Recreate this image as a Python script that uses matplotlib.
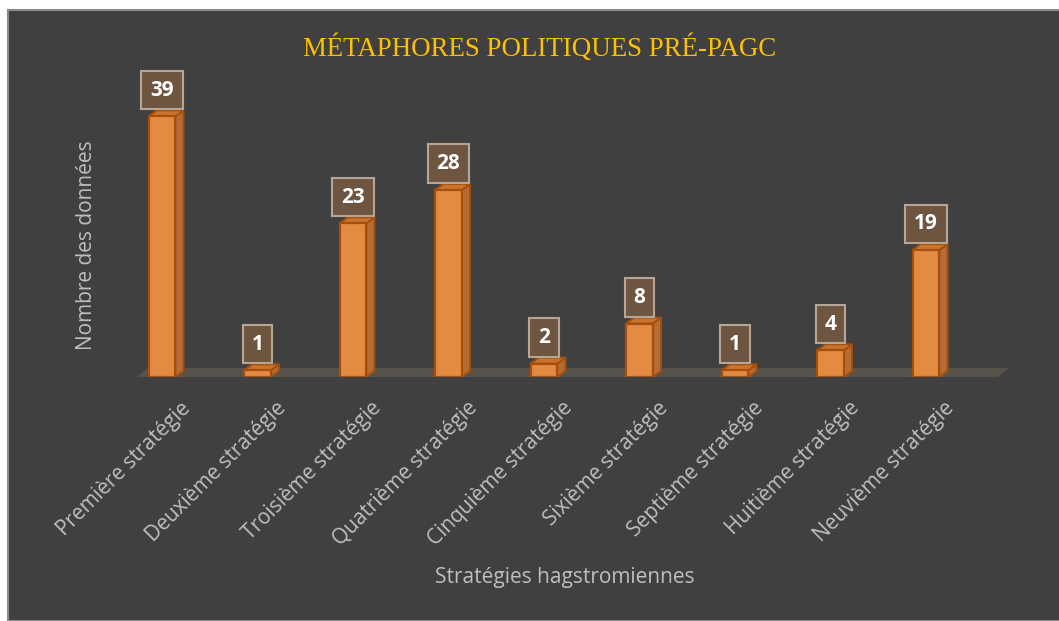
import matplotlib

matplotlib.use("Agg")
import matplotlib.pyplot as plt
import numpy as np
from matplotlib.patches import Polygon, Rectangle
from matplotlib.transforms import ScaledTranslation

# data
categories = [
    "Première stratégie",
    "Deuxième stratégie",
    "Troisième stratégie",
    "Quatrième stratégie",
    "Cinquième stratégie",
    "Sixième stratégie",
    "Septième stratégie",
    "Huitième stratégie",
    "Neuvième stratégie",
]
values = [39, 1, 23, 28, 2, 8, 1, 4, 19]

title = "MÉTAPHORES POLITIQUES PRÉ-PAGC"
xlabel = "Stratégies hagstromiennes"
ylabel = "Nombre des données"

BG = "#404040"
FRONT = "#E38B42"
SIDE = "#B56D38"
TOP = "#C8742F"
EDGE = "#A64F0C"
FLOOR = "#57534B"
TXT = "#BFBFBF"
SANS = "Open Sans"

W, H = 1059, 621
fig = plt.figure(figsize=(W / 100, H / 100), dpi=100, facecolor="white")
fig.patches.append(
    Rectangle((8 / W, 0), 1, (H - 10) / H, transform=fig.transFigure,
              facecolor=BG, edgecolor="#8a8a8a", linewidth=1.5, zorder=-10)
)

ax = fig.add_axes([114.25 / W, (H - 377) / H, 859.5 / W, 300.6 / H])
ax.set_zorder(1)
ax.set_facecolor("none")
ax.set_xlim(-0.5, 8.5)
ax.set_ylim(0, 45)
for s in ax.spines.values():
    s.set_visible(False)
ax.set_yticks([])

x = np.arange(len(values))
bw = 0.28
dx, dy = 0.085, 0.9

# floor
floor = Polygon([(-0.262, 0), (8.755, 0), (8.87, 1.35), (-0.155, 1.35)],
                closed=True, facecolor=FLOOR, edgecolor="none", zorder=1, clip_on=False)
ax.add_patch(floor)

bars = ax.bar(x, values, width=bw, color=FRONT, edgecolor=EDGE, linewidth=1.6, zorder=3)
for rect, v in zip(bars, values):
    x0 = rect.get_x()
    x1 = x0 + rect.get_width()
    side = Polygon([(x1, 0), (x1 + dx, dy), (x1 + dx, v + dy), (x1, v)],
                   closed=True, facecolor=SIDE, edgecolor=EDGE, linewidth=1.4, zorder=2.5)
    top = Polygon([(x0, v), (x0 + dx, v + dy), (x1 + dx, v + dy), (x1, v)],
                  closed=True, facecolor=TOP, edgecolor=EDGE, linewidth=1.4, zorder=2.6)
    ax.add_patch(side)
    ax.add_patch(top)
    ax.annotate(str(v), (rect.get_x() + bw / 2, v + dy), xytext=(0, 7),
                textcoords="offset points", ha="center", va="bottom",
                fontsize=15, fontweight="bold", color="white", family=SANS,
                bbox=dict(boxstyle="square,pad=0.42", facecolor="#6E553F",
                          edgecolor="#B5A797", linewidth=1.5),
                zorder=5, annotation_clip=False)

ax.set_xticks(x)
ax.set_xticklabels(categories, rotation=45, ha="right", rotation_mode="anchor",
                   fontsize=15, color=TXT, family=SANS)
ax.tick_params(axis="x", length=0, pad=15)
off = ScaledTranslation(18 / 100, 0, fig.dpi_scale_trans)
for lab in ax.get_xticklabels():
    lab.set_transform(lab.get_transform() + off)

fig.text(565 / W, 1 - 577 / H, xlabel, ha="center", va="center",
         fontsize=15, color=TXT, family=SANS)
fig.text(87 / W, 1 - 245 / H, ylabel, ha="center", va="center", rotation=90,
         fontsize=15, color=TXT, family=SANS)
fig.text(540 / W, 1 - 48 / H, title, ha="center", va="center",
         fontsize=19.4, color="#FFC000", family="Liberation Serif")

fig.savefig("out.png", dpi=100, facecolor=fig.get_facecolor())
